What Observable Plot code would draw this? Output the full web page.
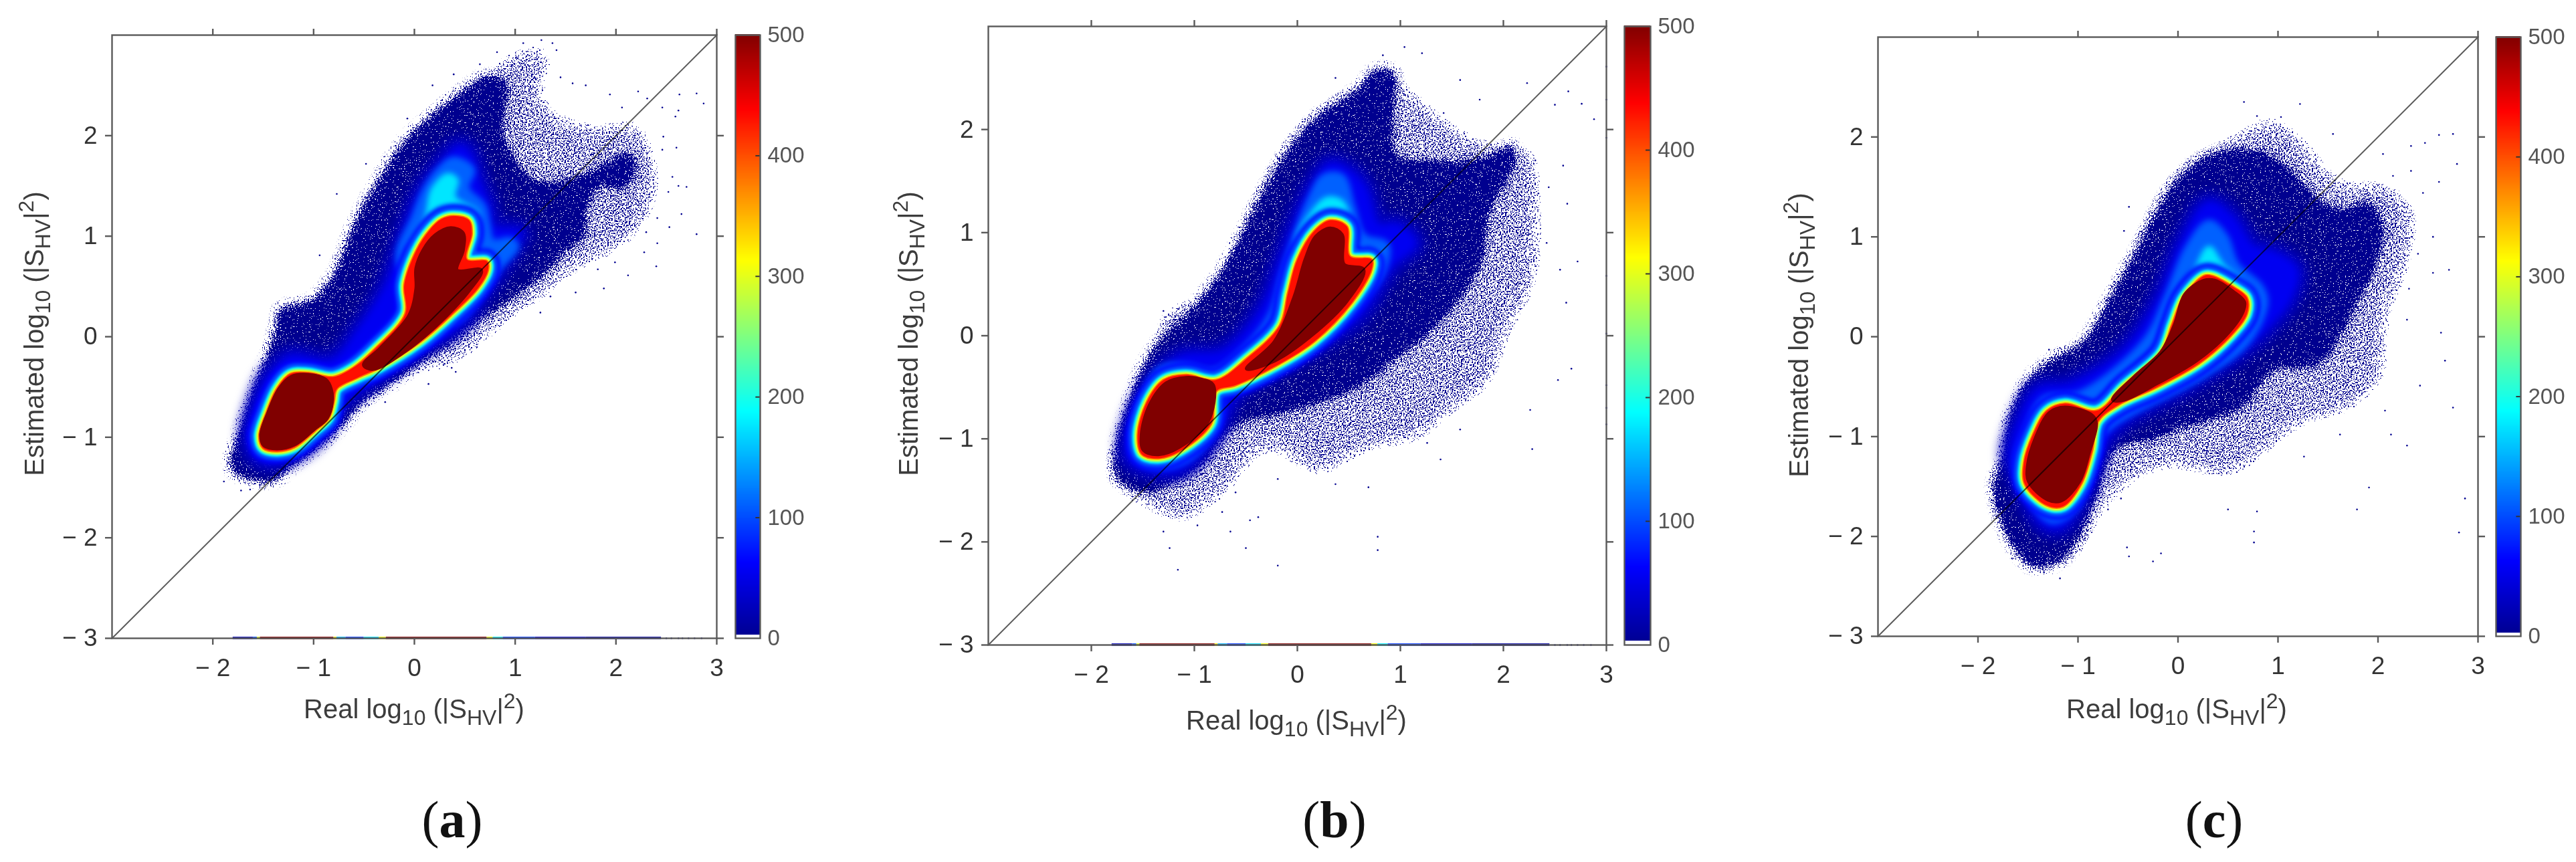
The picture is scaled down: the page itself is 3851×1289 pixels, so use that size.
<!DOCTYPE html>
<html><head><meta charset="utf-8">
<script src="https://cdn.jsdelivr.net/npm/d3@7"></script>
<script src="https://cdn.jsdelivr.net/npm/@observablehq/plot@0.6"></script>
<style>
html,body{margin:0;padding:0;background:#fff;overflow:hidden}
#page{position:relative;width:3851px;height:1289px;overflow:hidden;font-family:"Liberation Sans",Arial,sans-serif;filter:blur(.55px)}
#page>svg{position:absolute;overflow:visible;background:transparent}
.t{position:absolute;white-space:nowrap;color:#3c3c3c;font-size:40px;line-height:1}
.t span{position:relative;font-size:32px}
.t .sb{top:10px}.t .sp{top:-15px}
.cap{position:absolute;font-family:"Liberation Serif",serif;font-size:78px;line-height:1;color:#111;transform:translateX(-50%);white-space:nowrap}
.cap b{font-weight:700}
</style></head><body>
<svg width="0" height="0" style="position:absolute"><defs>
<filter id="dissolveDense" x="-12%" y="-12%" width="124%" height="124%" color-interpolation-filters="sRGB">
<feGaussianBlur in="SourceAlpha" stdDeviation="6" result="soft"/>
<feTurbulence type="fractalNoise" baseFrequency="0.55" numOctaves="1" seed="4" result="n"/>
<feColorMatrix in="n" type="matrix" values="0 0 0 0 0 0 0 0 0 0 0 0 0 0 0 3 0 0 0 -1" result="g"/>
<feComposite in="soft" in2="g" operator="arithmetic" k1="0" k2="1" k3="1" k4="-1" result="sum"/>
<feComponentTransfer in="sum" result="m"><feFuncA type="linear" slope="40" intercept="0"/></feComponentTransfer>
<feFlood flood-color="#00008f"/><feComposite in2="m" operator="in"/></filter>
<filter id="dissolveSparse" x="-12%" y="-12%" width="124%" height="124%" color-interpolation-filters="sRGB">
<feGaussianBlur in="SourceAlpha" stdDeviation="16" result="soft"/>
<feTurbulence type="fractalNoise" baseFrequency="0.5" numOctaves="1" seed="9" result="n"/>
<feColorMatrix in="n" type="matrix" values="0 0 0 0 0 0 0 0 0 0 0 0 0 0 0 3 0 0 0 -1" result="g"/>
<feComposite in="soft" in2="g" operator="arithmetic" k1="0" k2="1" k3="1" k4="-1.62" result="sum"/>
<feComponentTransfer in="sum" result="m"><feFuncA type="linear" slope="40" intercept="0"/></feComponentTransfer>
<feFlood flood-color="#00008f"/><feComposite in2="m" operator="in"/></filter>
</defs></svg>
<div id="page"></div>
<script>
// ---------- shared values ----------
const xTicks = [-2,-1,0,1,2,3];
const yTicks = [-3,-2,-1,0,1,2];
const cbTicks = [0,100,200,300,400,500];
const jetDomain = [0,62.5,187.5,312.5,437.5,500];
const jetRange = ["#00008f","#0000ff","#00ffff","#ffff00","#ff0000","#800000"];
const stripFrom =  [-1.8,-1.6,-1.56,-1.53,-0.8,-0.77,-0.68,-0.5,-0.35,-0.28,0.72,0.78,0.88,1.2,1.7];
const stripTo =    [-1.6,-1.56,-1.53,-0.8,-0.77,-0.68,-0.5,-0.35,-0.28,0.72,0.78,0.88,1.2,1.7,2.45];
const stripValue = [20,100,300,500,320,150,90,170,310,500,310,180,90,30,8];
const stripSpecks = [[2.5,-3],[2.55,-3],[2.62,-3],[2.66,-3],[2.72,-3],[2.78,-3],[2.85,-3]];
const diagonal = [-3,3];

// ---------- panel (a) contours, data units ----------
const aSparse=[[-1.92,-1.33],[-1.75,-0.8],[-1.6,-0.35],[-1.5,-0.05],[-1.35,0.35],[-1.0,0.45],[-0.8,0.75],[-0.6,1.3],[-0.35,1.7],[-0.1,2.05],[0.2,2.35],[0.55,2.6],[0.85,2.8],[1.3,2.95],[1.4,2.7],[1.3,2.4],[1.55,2.2],[1.9,2.15],[2.2,2.2],[2.4,1.9],[2.45,1.4],[2.2,0.95],[1.9,0.75],[1.6,0.6],[1.3,0.35],[1.0,0.15],[0.45,-0.3],[0.35,-0.35],[0.0,-0.4],[-0.35,-0.62],[-0.7,-0.95],[-1.1,-1.28],[-1.4,-1.55],[-1.7,-1.5]];
const aOuter=[[-1.83,-1.27],[-1.72,-0.90],[-1.58,-0.49],[-1.47,-0.21],[-1.39,0.03],[-1.33,0.28],[-1.03,0.36],[-0.81,0.61],[-0.59,1.15],[-0.37,1.54],[-0.15,1.89],[0.13,2.17],[0.46,2.44],[0.73,2.60],[0.92,2.52],[0.90,2.23],[0.90,1.96],[1.22,1.55],[1.69,1.62],[2.12,1.83],[2.20,1.74],[2.10,1.48],[1.84,1.48],[1.72,1.30],[1.69,1.01],[1.51,0.86],[1.33,0.66],[1.13,0.50],[0.89,0.32],[0.60,0.15],[0.30,-0.10],[0.16,-0.19],[-0.28,-0.50],[-0.52,-0.65],[-0.70,-0.87],[-1.07,-1.18],[-1.23,-1.30],[-1.38,-1.43],[-1.56,-1.43],[-1.78,-1.36]];
const aBlue=[[-1.62,-1.05],[-1.58,-1.16],[-1.45,-1.23],[-1.23,-1.16],[-1.01,-1.01],[-0.85,-0.81],[-0.74,-0.65],[-0.39,-0.39],[-0.02,-0.14],[0.45,0.15],[0.72,0.52],[0.95,0.86],[1.04,1.03],[0.77,1.08],[0.72,1.30],[0.62,1.56],[0.54,1.81],[0.45,1.88],[0.27,1.70],[0.06,1.39],[-0.11,0.96],[-0.26,0.52],[-0.53,0.08],[-0.82,-0.25],[-1.23,-0.21],[-1.36,-0.32],[-1.47,-0.47],[-1.56,-0.70],[-1.62,-0.92]];
const aLight=[[0.39,1.76],[0.57,1.66],[0.51,1.48],[0.68,1.30],[0.72,1.12],[0.77,0.94],[0.95,0.96],[1.01,0.90],[0.83,0.68],[0.72,0.52],[0.36,0.15],[-0.15,0.75],[0.0,1.19],[0.12,1.48],[0.27,1.68]];
const aCyan=[[0.33,1.61],[0.42,1.56],[0.39,1.39],[0.62,1.23],[0.61,1.08],[0.62,0.86],[0.77,0.77],[0.60,0.60],[-0.03,0.86],[0.12,1.19],[0.18,1.46]];
const aHot=[[0.39,1.20],[0.54,1.16],[0.57,1.03],[0.52,0.77],[0.72,0.75],[0.73,0.66],[0.63,0.48],[0.36,0.21],[0.06,-0.05],[-0.35,-0.31],[-0.57,-0.41],[-0.77,-0.52],[-0.80,-0.65],[-0.85,-0.81],[-0.99,-0.94],[-1.19,-1.10],[-1.36,-1.14],[-1.50,-1.11],[-1.54,-0.99],[-1.47,-0.76],[-1.36,-0.51],[-1.23,-0.37],[-1.05,-0.36],[-0.81,-0.40],[-0.61,-0.31],[-0.39,-0.12],[-0.09,0.23],[-0.10,0.52],[0.02,0.86],[0.15,1.06],[0.27,1.17]];
const aCore1=[[-0.83,-0.52],[-0.82,-0.65],[-0.87,-0.81],[-1.0,-0.92],[-1.19,-1.07],[-1.36,-1.11],[-1.49,-1.08],[-1.52,-0.98],[-1.45,-0.76],[-1.34,-0.52],[-1.22,-0.40],[-1.05,-0.38],[-0.88,-0.43]];
const aCore2=[[0.36,1.08],[0.48,1.03],[0.48,0.86],[0.42,0.66],[0.66,0.66],[0.54,0.46],[0.18,0.08],[-0.09,-0.14],[-0.41,-0.32],[-0.50,-0.28],[-0.34,-0.12],[-0.05,0.21],[0.02,0.48],[0.02,0.68],[0.09,0.86],[0.21,1.01]];
const aDots=[[1.26,2.95],[1.37,2.92],[1.08,2.92],[1.41,2.85],[0.82,2.83],[1.01,2.78],[0.65,2.71],[1.45,2.58],[1.70,2.50],[1.57,2.52],[1.94,2.41],[2.22,2.44],[2.63,2.41],[2.80,2.42],[2.87,2.32],[2.62,2.25],[2.59,2.19],[2.46,2.28],[2.31,2.37],[2.06,2.28],[2.47,1.99],[2.60,1.88],[2.46,1.86],[2.28,1.68],[2.56,1.59],[2.62,1.50],[2.70,1.49],[2.52,1.44],[2.33,1.39],[2.37,1.56],[2.27,1.23],[2.41,1.18],[2.65,1.22],[2.53,1.09],[2.80,1.02],[2.30,1.04],[2.41,0.93],[2.28,0.84],[2.40,0.70],[2.12,0.61],[1.88,0.48],[1.99,0.74],[1.82,0.67],[1.60,0.44],[1.35,0.40],[1.25,0.24],[0.39,2.61],[0.18,2.50],[-0.07,2.17],[-0.48,1.72],[-0.77,1.42],[-0.94,0.81],[-1.89,-1.44],[-1.72,-1.53],[-1.63,-1.52],[0.41,-0.35],[0.37,-0.31],[0.30,-0.27],[0.14,-0.47],[-0.29,-0.65],[-0.45,-0.68],[-0.79,-1.0]];

// ---------- panel (b) ----------
const bSparse=[[-1.9,-1.3],[-1.8,-0.9],[-1.6,-0.35],[-1.45,-0.05],[-1.3,0.3],[-1.0,0.4],[-0.75,0.75],[-0.5,1.3],[-0.2,1.85],[0.1,2.2],[0.5,2.45],[0.85,2.65],[1.1,2.45],[1.5,2.1],[1.9,1.9],[2.3,1.85],[2.4,1.2],[2.35,0.5],[2.1,0.0],[1.9,-0.5],[1.5,-0.8],[1.2,-1.05],[0.7,-1.15],[0.2,-1.4],[-0.3,-1.15],[-0.6,-1.5],[-1.1,-1.85],[-1.5,-1.7],[-1.8,-1.5]];
const bOuter=[[-1.75,-1.39],[-1.46,-1.52],[-1.24,-1.44],[-0.92,-1.23],[-0.65,-0.90],[0,-0.72],[0.59,-0.50],[0.86,-0.30],[1.18,-0.06],[1.50,0.26],[1.78,0.69],[1.88,1.22],[2.10,1.65],[2.10,1.85],[1.77,1.72],[1.34,1.70],[0.96,1.76],[0.94,2.18],[0.94,2.56],[0.75,2.58],[0.59,2.40],[0.16,2.10],[-0.16,1.70],[-0.43,1.22],[-0.70,0.69],[-1.03,0.26],[-1.35,-0.06],[-1.51,-0.32],[-1.67,-0.75],[-1.75,-1.02]];
const bBlue=[[-1.46,-1.28],[-1.14,-1.28],[-0.79,-0.91],[-0.60,-0.54],[0.05,-0.16],[0.59,0.21],[0.91,0.69],[1.13,0.90],[0.96,1.06],[0.78,1.06],[0.64,1.44],[0.48,1.60],[0.32,1.65],[0.10,1.33],[-0.14,0.74],[-0.33,0.26],[-0.71,-0.16],[-1.14,-0.22],[-1.41,-0.48],[-1.62,-0.96],[-1.62,-1.18]];
const bLight=[[0.26,1.54],[0.43,1.54],[0.53,1.25],[0.64,0.96],[0.86,0.88],[0.83,0.64],[0.64,0.37],[0.21,-0.06],[-0.27,-0.38],[-0.71,-0.56],[-0.79,-0.88],[-1.08,-1.20],[-1.41,-1.26],[-1.57,-1.15],[-1.59,-0.96],[-1.49,-0.59],[-1.32,-0.32],[-1.08,-0.30],[-0.81,-0.35],[-0.49,-0.11],[-0.25,0.21],[-0.14,0.58],[0,1.01],[0.13,1.33]];
const bCyan=[[0.29,1.33],[0.43,1.30],[0.51,1.12],[0.59,0.85],[0.78,0.80],[0.72,0.58],[0.16,0.58],[0,0.90],[0.13,1.17]];
const bHot=[[0.32,1.12],[0.48,1.06],[0.51,0.77],[0.72,0.74],[0.72,0.64],[0.53,0.32],[0.16,-0.06],[-0.22,-0.30],[-0.60,-0.48],[-0.79,-0.54],[-0.84,-0.86],[-1.14,-1.12],[-1.35,-1.19],[-1.51,-1.15],[-1.55,-0.96],[-1.46,-0.64],[-1.30,-0.43],[-1.08,-0.38],[-0.79,-0.43],[-0.49,-0.22],[-0.17,0.10],[-0.09,0.42],[0,0.74],[0.16,1.01]];
const bCore1=[[-0.82,-0.48],[-0.87,-0.83],[-1.15,-1.08],[-1.35,-1.15],[-1.49,-1.11],[-1.51,-0.96],[-1.43,-0.67],[-1.27,-0.46],[-1.08,-0.41],[-0.92,-0.43]];
const bCore2=[[0.32,1.04],[0.43,0.98],[0.45,0.69],[0.64,0.64],[0.48,0.34],[0.13,0],[-0.22,-0.24],[-0.49,-0.32],[-0.22,-0.06],[-0.03,0.37],[0.08,0.74],[0.18,0.96]];
const bDots=[[1.21,2.74],[1.04,2.80],[0.83,2.72],[0.37,2.50],[1.58,2.48],[2.23,2.45],[2.76,2.25],[2.63,2.37],[2.50,2.24],[2.88,2.10],[1.77,2.29],[1.42,2.16],[2.31,1.70],[2.34,1.38],[2.58,1.65],[2.44,1.44],[2.62,1.28],[2.42,0.90],[2.55,0.64],[2.72,0.72],[2.61,0.32],[2.66,-0.32],[2.53,-0.43],[2.26,-0.72],[2.28,-1.10],[1.58,-0.91],[1.39,-1.20],[1.26,-1.04],[0.69,-1.47],[0.37,-1.44],[0.78,-1.95],[0.78,-2.08],[-0.19,-2.23],[-0.50,-2.06],[-0.38,-1.76],[-0.46,-1.79],[-0.65,-1.90],[-0.73,-1.71],[-0.97,-1.84],[-1.16,-2.27],[-1.24,-2.06],[-1.30,-1.90],[-0.19,-1.39],[-0.60,-1.52],[-1.30,0.24],[3,2.61],[3,2.29],[3,1.92],[3,0.58],[3,0.02],[3,-0.48],[3,-0.70],[3,-0.86]];

// ---------- panel (c) ----------
const cSparse=[[-1.95,-1.6],[-1.8,-1.0],[-1.65,-0.55],[-1.3,-0.1],[-1.0,0.0],[-0.7,0.55],[-0.4,1.15],[-0.15,1.6],[0.2,1.9],[0.55,2.05],[0.9,2.25],[1.3,2.0],[1.65,1.6],[2.05,1.6],[2.4,1.3],[2.35,0.7],[2.15,0.2],[2.1,-0.4],[1.7,-0.8],[1.3,-0.9],[0.9,-1.2],[0.5,-1.45],[-0.1,-1.35],[-0.5,-1.55],[-0.7,-1.75],[-0.95,-2.2],[-1.25,-2.38],[-1.55,-2.35],[-1.8,-2.0],[-1.9,-1.75]];
const cOuter=[[-1.85,-1.48],[-1.74,-1.20],[-1.69,-0.82],[-1.50,-0.43],[-1.23,-0.21],[-0.97,-0.07],[-0.65,0.45],[-0.38,0.94],[-0.11,1.44],[0.21,1.77],[0.52,1.88],[0.84,1.85],[1.10,1.70],[1.38,1.40],[1.65,1.28],[1.90,1.35],[2.05,1.10],[1.98,0.72],[1.80,0.34],[1.62,0.0],[1.40,-0.28],[0.95,-0.35],[0.63,-0.72],[0.15,-0.88],[-0.22,-1.02],[-0.65,-1.15],[-0.81,-1.59],[-1.0,-2.03],[-1.18,-2.25],[-1.45,-2.31],[-1.66,-2.09],[-1.77,-1.86]];
const cBlue=[[-1.58,-1.42],[-1.34,-1.86],[-1.18,-1.89],[-0.97,-1.59],[-0.75,-1.04],[-0.54,-0.82],[0.05,-0.49],[0.58,-0.16],[0.90,0.12],[1.11,0.39],[1.17,0.67],[0.95,0.83],[0.74,0.89],[0.55,1.17],[0.31,1.33],[0.05,0.94],[-0.17,0.39],[-0.54,-0.16],[-1.07,-0.49],[-1.39,-0.54],[-1.58,-0.87],[-1.66,-1.20]];
const cLight=[[0.31,1.14],[0.47,1.0],[0.58,0.72],[0.82,0.50],[0.87,0.34],[0.69,-0.05],[0.26,-0.38],[-0.65,-0.87],[-0.81,-1.04],[-1.02,-1.70],[-1.26,-1.84],[-1.50,-1.59],[-1.61,-1.31],[-1.5,-0.93],[-1.34,-0.63],[-0.97,-0.57],[-0.33,-0.05],[-0.11,0.39],[0.10,0.89]];
const cCyan=[[0.31,0.89],[0.44,0.72],[0.60,0.58],[0.76,0.38],[0.55,0.10],[0.05,0.30],[0.18,0.66]];
const cHot=[[0.26,0.61],[0.34,0.61],[0.55,0.50],[0.69,0.39],[0.69,0.23],[0.53,0.01],[0.21,-0.27],[-0.22,-0.51],[-0.59,-0.68],[-0.80,-0.85],[-0.86,-1.15],[-0.97,-1.48],[-1.15,-1.70],[-1.31,-1.69],[-1.53,-1.48],[-1.54,-1.26],[-1.45,-0.98],[-1.31,-0.74],[-1.13,-0.67],[-0.81,-0.74],[-0.54,-0.49],[-0.17,-0.16],[-0.06,0.12],[0.05,0.39]];
const cCore1=[[-0.82,-0.87],[-0.89,-1.15],[-0.99,-1.45],[-1.17,-1.64],[-1.30,-1.63],[-1.49,-1.45],[-1.50,-1.29],[-1.42,-1.01],[-1.28,-0.76],[-1.13,-0.71],[-0.86,-0.79]];
const cCore2=[[0.26,0.56],[0.37,0.56],[0.55,0.45],[0.66,0.35],[0.65,0.26],[0.50,0.04],[0.18,-0.24],[-0.22,-0.47],[-0.54,-0.63],[-0.65,-0.63],[-0.41,-0.38],[-0.17,-0.16],[-0.03,0.12],[0.07,0.42]];
const cDots=[[0.66,2.35],[0.79,2.21],[1.22,2.33],[1.03,2.20],[1.55,2.03],[2.61,2.02],[2.75,2.03],[2.47,1.94],[2.33,1.91],[2.05,1.83],[2.79,1.73],[2.61,1.55],[2.33,1.66],[2.45,1.44],[2.15,1.61],[2.34,1.0],[2.55,1.0],[2.40,0.83],[2.71,0.67],[2.55,0.64],[2.31,0.48],[2.63,0.04],[2.29,0.17],[2.67,-0.24],[2.42,-0.49],[2.75,-0.71],[2.07,-0.74],[2.29,-1.09],[2.13,-0.98],[1.62,-0.98],[1.91,-1.51],[1.79,-1.73],[2.87,-1.62],[2.81,-1.96],[1.26,-1.20],[0.76,-1.95],[0.76,-2.06],[0.79,-1.75],[0.50,-1.73],[-0.17,-2.17],[-0.25,-2.25],[-0.49,-2.20],[-0.51,-2.11],[-0.70,-1.73],[-0.57,-1.62],[-0.49,1.30],[-0.54,1.06],[-1.29,-0.13],[-1.18,-2.42],[-1.34,-2.36],[-1.66,-2.22],[-1.85,-1.64]];

// ---------- rim of the hot region: density value, total stroke width, softness ----------
const rimValue = [62,110,187,250,312,380];
const rimWidth = [36,26,16,11,7,3.5];
const rimBlur  = [3,2.5,1.5,1,.8,.6];

// ---------- layout (frame edges in page pixels) ----------
const panels = [
 {sparse:aSparse,outer:aOuter,blue:aBlue,light:aLight,cyan:aCyan,hot:aHot,core:[aCore1,aCore2],dots:aDots,strip:true,
  frame:[167,1071,52,954],bar:[1099,1136],xt:[619,1073],yt:[51,499],cap:[676,1187],name:"a"},
 {sparse:bSparse,outer:bOuter,blue:bBlue,light:bLight,cyan:bCyan,hot:bHot,core:[bCore1,bCore2],dots:bDots,strip:true,
  frame:[1477,2401,39,964],bar:[2428,2467],xt:[1938,1090],yt:[1358,499],cap:[1995,1187],name:"b"},
 {sparse:cSparse,outer:cOuter,blue:cBlue,light:cLight,cyan:cCyan,hot:cHot,core:[cCore1,cCore2],dots:cDots,strip:false,
  frame:[2807,3704,55,951],bar:[3731,3768],xt:[3254,1073],yt:[2689,501],cap:[3310,1187],name:"c"}
];

const font='"Liberation Sans",Arial,sans-serif';
const colorOpt={type:"linear",domain:jetDomain,range:jetRange,interpolate:"rgb",clamp:true};
const signed=d=>d<0?`\u2212 ${-d}`:`${d}`;
const X=d=>d[0],Y=d=>d[1];
const withStyle=(css,attr)=>({render(i,s,v,d,c,n){const g=n(i,s,v,d,c);if(css)g.style.filter=css;if(attr)g.setAttribute("filter",attr);return g;}});
const region=(pts,val,extra={})=>Plot.line(pts,{x:X,y:Y,fill:()=>val,curve:"catmull-rom-closed",...extra});
const grown=(pts,val,w,b)=>region(pts,val,{stroke:()=>val,strokeWidth:w,strokeLinejoin:"round",...withStyle(`blur(${b}px)`)});

const page=document.getElementById("page");
const add=(el,l,t)=>{el.style.left=l+"px";el.style.top=t+"px";page.appendChild(el);};

for(const p of panels){
  const [L,R,T,B]=p.frame, mL=125,mR=24,mT=24,mB=74;
  const sw=2.4, axc="#5a5a5a", txt="#333";
  const strip=p.strip?stripFrom.map((a,i)=>({a,b:stripTo[i],v:stripValue[i]})):[];
  const chart=Plot.plot({
    width:R-L+mL+mR,height:B-T+mT+mB,marginLeft:mL,marginRight:mR,marginTop:mT,marginBottom:mB,
    x:{domain:[-3,3]},y:{domain:[-3,3]},color:colorOpt,
    style:{background:"transparent",fontFamily:font},
    marks:[
      region(p.sparse,6,withStyle(null,"url(#dissolveSparse)")),
      region(p.outer,6,withStyle(null,"url(#dissolveDense)")),
      grown(p.blue,28,36,8),
      grown(p.blue,55,8,6),
      grown(p.light,110,10,5),
      grown(p.cyan,175,6,4),
      ...rimValue.map((v,i)=>grown(p.hot,v,rimWidth[i],rimBlur[i])),
      region(p.hot,430,withStyle("blur(.6px)")),
      ...p.core.map(c=>grown(c,500,6,.6)),
      Plot.dot(p.dots,{x:X,y:Y,r:1.3,fill:"#00008f",stroke:"none"}),
      Plot.rect(strip,{x1:"a",x2:"b",y1:-3.012,y2:-2.988,fill:"v"}),
      Plot.dot(p.strip?stripSpecks:[],{x:X,y:Y,r:1.3,fill:"#00008f",stroke:"none"}),
      Plot.line(diagonal,{x:d=>d,y:d=>d,stroke:"#5c5c5c",strokeWidth:2,mixBlendMode:"multiply"}),
      Plot.frame({stroke:axc,strokeWidth:sw}),
      Plot.axisX(xTicks,{anchor:"bottom",label:null,tickSize:10,tickPadding:20,fontSize:37,stroke:axc,strokeWidth:sw,color:txt,tickFormat:signed}),
      Plot.axisX(xTicks,{anchor:"top",label:null,tickSize:10,tickFormat:()=>"",stroke:axc,strokeWidth:sw}),
      Plot.axisY(yTicks,{anchor:"left",label:null,tickSize:10,tickPadding:12,fontSize:37,stroke:axc,strokeWidth:sw,color:txt,tickFormat:signed}),
      Plot.axisY(yTicks,{anchor:"right",label:null,tickSize:10,tickFormat:()=>"",stroke:axc,strokeWidth:sw})
    ]
  });
  add(chart,L-mL,T-mT);

  // colour bar
  const [bl,br]=p.bar, cT=24,cB=24,cR=90;
  const bar=Plot.plot({
    width:br-bl+cR,height:B-T+cT+cB,marginLeft:0,marginRight:cR,marginTop:cT,marginBottom:cB,
    x:{domain:[0,1],axis:null},y:{domain:[0,500]},color:colorOpt,
    style:{background:"transparent",fontFamily:font},
    marks:[
      Plot.rect(d3.range(3,500,1),{x1:0,x2:1,y1:d=>d,y2:d=>d+1.5,fill:d=>d,shapeRendering:"crispEdges"}),
      Plot.ruleY(cbTicks.slice(1,-1),{x1:0.82,x2:1,stroke:"#333",strokeWidth:2}),
      Plot.frame({stroke:"#5a5a5a",strokeWidth:2.4}),
      Plot.axisY(cbTicks,{anchor:"right",label:null,tickSize:0,tickPadding:11,fontSize:33,color:"#555"})
    ]
  });
  add(bar,bl,T-cT);

  // axis titles
  const xt=document.createElement("div");xt.className="t";
  xt.innerHTML='Real log<span class="sb">10</span> (|S<span class="sb">HV</span>|<span class="sp">2</span>)';
  xt.style.transform="translateX(-50%)";add(xt,p.xt[0],p.xt[1]-33);
  const yt=document.createElement("div");yt.className="t";
  yt.innerHTML='Estimated log<span class="sb">10</span> (|S<span class="sb">HV</span>|<span class="sp">2</span>)';
  yt.style.transform="translate(-50%,-50%) rotate(-90deg)";add(yt,p.yt[0],p.yt[1]);
  const cap=document.createElement("div");cap.className="cap";
  cap.innerHTML=`(<b>${p.name}</b>)`;add(cap,p.cap[0],p.cap[1]);
}
</script></body></html>
